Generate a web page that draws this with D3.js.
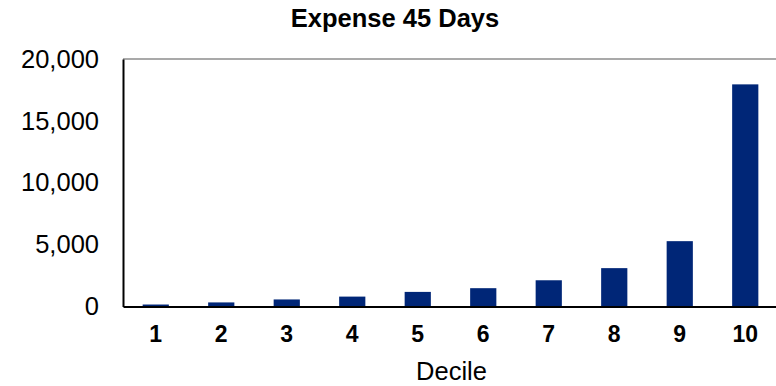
<!DOCTYPE html>
<html>
<head>
<meta charset="utf-8">
<script src="https://cdn.jsdelivr.net/npm/d3@7"></script>
<style>
  html, body { margin: 0; padding: 0; background: #fff; }
  svg { display: block; font-family: "Liberation Sans", Arial, sans-serif; }
</style>
</head>
<body>
<svg id="chart" width="776" height="386"></svg>
<script>
// Expense over 45 days, by decile
const deciles = ["1", "2", "3", "4", "5", "6", "7", "8", "9", "10"];
const expense = [160, 330, 570, 800, 1180, 1480, 2120, 3100, 5280, 17950];
const yTicks = [0, 5000, 10000, 15000, 20000];

const plot = { left: 123, right: 778, top: 59, bottom: 306.5 };

const svg = d3.select("#chart");

const x = d3.scaleBand()
  .domain(deciles)
  .range([plot.left, plot.right])
  .paddingInner(0.6)
  .paddingOuter(0.3);

const y = d3.scaleLinear()
  .domain([0, 20000])
  .range([plot.bottom, plot.top]);

// top frame line
svg.append("line")
  .attr("x1", plot.left).attr("x2", plot.right)
  .attr("y1", plot.top).attr("y2", plot.top)
  .attr("stroke", "#8c8c8c").attr("stroke-width", 1.5);

// bars
svg.append("g")
  .selectAll("rect")
  .data(deciles.map((d, i) => ({ d, v: expense[i] })))
  .join("rect")
  .attr("x", p => x(p.d))
  .attr("width", x.bandwidth())
  .attr("y", p => y(p.v))
  .attr("height", p => y(0) - y(p.v))
  .attr("fill", "#002677");

// y axis
const yAxis = svg.append("g")
  .attr("transform", `translate(${plot.left},0)`)
  .call(d3.axisLeft(y).tickValues(yTicks).tickSize(0).tickPadding(24)
    .tickFormat(d3.format(",")));
yAxis.select(".domain").attr("stroke", "#000").attr("stroke-width", 2);
yAxis.selectAll("text")
  .attr("font-size", 25.5)
  .attr("fill", "#000")
  .attr("font-family", "Liberation Sans, Arial, sans-serif");

// x axis
const xAxis = svg.append("g")
  .attr("transform", `translate(0,${plot.bottom})`)
  .call(d3.axisBottom(x).tickSize(0).tickPadding(19));
xAxis.select(".domain").attr("stroke", "#000").attr("stroke-width", 2);
xAxis.selectAll("text")
  .attr("font-size", 23)
  .attr("font-weight", "bold")
  .attr("fill", "#000")
  .attr("font-family", "Liberation Sans, Arial, sans-serif");

// axis title
svg.append("text")
  .attr("x", (plot.left + plot.right) / 2 + 1)
  .attr("y", 380)
  .attr("text-anchor", "middle")
  .attr("font-size", 25.5)
  .attr("fill", "#000")
  .text("Decile");

// chart title
svg.append("text")
  .attr("x", 395)
  .attr("y", 27)
  .attr("text-anchor", "middle")
  .attr("font-size", 25.5)
  .attr("font-weight", "bold")
  .attr("fill", "#000")
  .text("Expense 45 Days");
</script>
</body>
</html>
